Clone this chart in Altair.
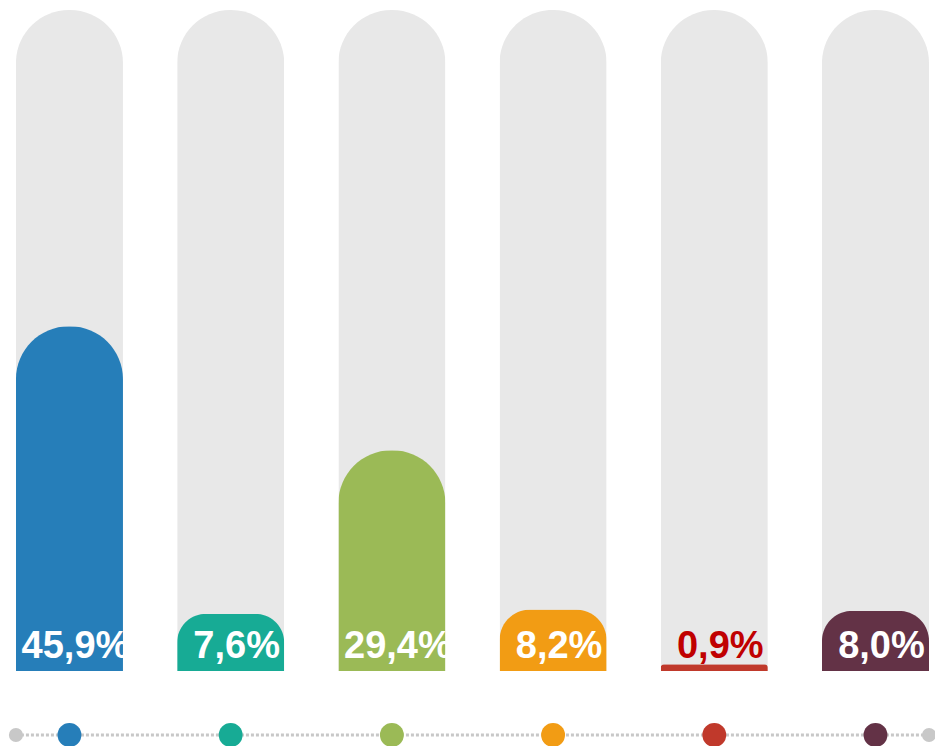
import altair as alt
import pandas as pd

categories = ["c1", "c2", "c3", "c4", "c5", "c6"]
values = [45.9, 7.6, 29.4, 8.2, 0.9, 8.0]
colors = ["#267EB9", "#17AB95", "#9BBA56", "#F29C14", "#C0392B", "#633246"]
y_max = 88

df = pd.DataFrame({"cat": categories, "value": values, "full": [y_max] * len(categories)})

x_scale = alt.Scale(paddingInner=0.336, paddingOuter=0.068, align=0.727, round=False)
y_scale = alt.Scale(domain=[0, y_max], nice=False, zero=True)
color_scale = alt.Scale(domain=categories, range=colors)


def xenc(band=0.5):
    return alt.X("cat:N", sort=categories, axis=None, scale=x_scale, bandPosition=band)


base = alt.Chart(df)

gray = base.mark_bar(color="#E8E8E8", cornerRadiusTopLeft=53, cornerRadiusTopRight=53).encode(
    x=xenc(), y=alt.Y("full:Q", scale=y_scale, axis=None)
)

bars = base.mark_bar(cornerRadiusTopLeft=53, cornerRadiusTopRight=53).encode(
    x=xenc(),
    y=alt.Y("value:Q", scale=y_scale, axis=None),
    color=alt.Color("cat:N", scale=color_scale, legend=None),
)

labels = base.transform_calculate(
    label="replace(format(datum.value, '.1f'), '.', ',') + '%'"
).mark_text(
    font="Liberation Sans", fontSize=38, fontWeight="bold", baseline="alphabetic", dx=6, dy=-13
).encode(
    x=xenc(),
    y=alt.YDatum(0, axis=None),
    text="label:N",
    color=alt.condition("datum.value < 2", alt.value("#C00000"), alt.value("white")),
)

strip_y = 725

rule = base.transform_filter(alt.datum.cat == categories[0]).mark_rule(
    color="#C8C8C8", strokeWidth=3, strokeDash=[3, 2]
).encode(x=xenc(0), x2=alt.value("width"), y=alt.value(strip_y))

end_left = base.transform_filter(alt.datum.cat == categories[0]).mark_circle(
    color="#C8C8C8", size=200, opacity=1
).encode(x=xenc(0), y=alt.value(strip_y))

end_right = base.transform_filter(alt.datum.cat == categories[-1]).mark_circle(
    color="#C8C8C8", size=200, opacity=1
).encode(x=xenc(1), y=alt.value(strip_y))

dots = base.mark_circle(size=570, opacity=1).encode(
    x=xenc(),
    y=alt.value(strip_y),
    color=alt.Color("cat:N", scale=color_scale, legend=None),
)

chart = alt.layer(gray, bars, labels, rule, end_left, end_right, dots).properties(
    width=935,
    height=661,
    autosize=alt.AutoSizeParams(type="none"),
    padding={"left": 0, "right": 0, "top": 10, "bottom": 75},
    background="white",
).configure_view(strokeWidth=0)

chart.save("out.html", embed_options={"renderer": "svg", "actions": False})
